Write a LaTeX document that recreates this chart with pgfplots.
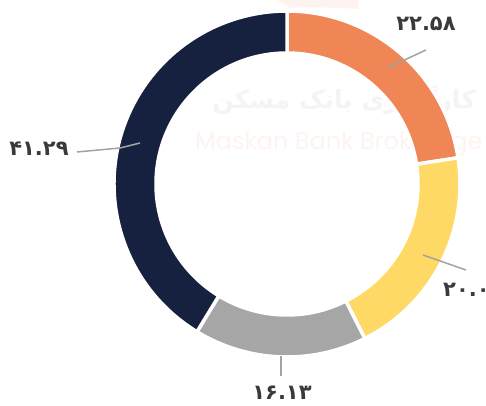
\documentclass[border=0pt]{standalone}
\usepackage{fontspec}
\usepackage{pgfplots}
\usepackage{pgfplotstable}
\pgfplotsset{compat=1.18}
\setmainfont{DejaVu Sans}
\newfontfamily\fa[Script=Arabic]{DejaVu Sans}
\newfontfamily\wmfont{Poppins}
\TeXXeTstate=1

\definecolor{cOrange}{HTML}{F08555}
\definecolor{cYellow}{HTML}{FFD966}
\definecolor{cGray}{HTML}{A6A6A6}
\definecolor{cNavy}{HTML}{15213F}
\definecolor{cLine}{HTML}{A3A3A3}
\definecolor{cText}{HTML}{3A3A3A}
\definecolor{wmPink}{HTML}{FDF4F0}
\definecolor{wmGray}{HTML}{F5F3F4}

% share of each slice, clockwise from the top
\pgfplotstableread{
value
22.58
20.00
16.13
41.29
}\donut

\pgfplotstablegetelem{0}{value}\of\donut \let\va\pgfplotsretval
\pgfplotstablegetelem{1}{value}\of\donut \let\vb\pgfplotsretval
\pgfplotstablegetelem{2}{value}\of\donut \let\vc\pgfplotsretval
\pgfplotstablegetelem{3}{value}\of\donut \let\vd\pgfplotsretval
\pgfmathsetmacro\aA{90}
\pgfmathsetmacro\aB{\aA-3.6*\va}
\pgfmathsetmacro\aC{\aB-3.6*\vb}
\pgfmathsetmacro\aD{\aC-3.6*\vc}
\pgfmathsetmacro\aE{\aD-3.6*\vd}

% ring slice: colour, start angle, end angle
\newcommand\seg[3]{%
  \fill[#1,draw=white,line width=3.5pt]
    ([shift={(#2:173pt)}]axis cs:287,221)
    arc[start angle=#2,end angle=#3,radius=173pt]
    -- ([shift={(#3:131pt)}]axis cs:287,221)
    arc[start angle=#3,end angle=#2,radius=131pt] -- cycle;}

\begin{document}
\begin{tikzpicture}
\begin{axis}[
    at={(0,0)}, anchor=south west,
    scale only axis, width=486pt, height=405pt,
    xmin=0, xmax=486, ymin=0, ymax=405,
    hide axis, clip=false,
]
% faint watermark behind the chart
\fill[wmPink] (axis cs:277,405) -- (axis cs:358,405) -- (axis cs:358,396)
  .. controls (axis cs:330,398) and (axis cs:300,398) .. (axis cs:291,397) -- cycle;
\node[anchor=east,text=wmGray,font=\fa\bfseries\fontsize{25}{28}\selectfont,inner sep=0]
  at (axis cs:476,305) {\beginR کارگزاری بانک مسکن\endR};
\node[anchor=west,text=wmPink,font=\wmfont\fontsize{24}{27}\selectfont,inner sep=0]
  at (axis cs:195,261) {Maskan Bank Brokerage};

\seg{cOrange}{\aA}{\aB}
\seg{cYellow}{\aB}{\aC}
\seg{cGray}{\aC}{\aD}
\seg{cNavy}{\aD}{\aE}

% leader lines
\draw[cLine,line width=1.5pt] (axis cs:387,337) -- (axis cs:426,355);
\draw[cLine,line width=1.5pt] (axis cs:77,253) -- (axis cs:120,257) -- (axis cs:140,262);
\draw[cLine,line width=1.5pt] (axis cs:423,150) -- (axis cs:466,135);
\draw[cLine,line width=1.5pt] (axis cs:281,49) -- (axis cs:281,29);

% value labels
\tikzset{lab/.style={text=cText,font=\fa\bfseries\fontsize{21}{24}\selectfont,inner sep=0}}
\node[lab] at (axis cs:426,381) {۲۲.۵۸};
\node[lab] at (axis cs:39,256) {۴۱.۲۹};
\node[lab,anchor=west] at (axis cs:443,115) {۲۰.۰۰};
\node[lab] at (axis cs:282,12) {۱۶.۱۳};
\end{axis}
\pgfresetboundingbox
\path[use as bounding box] (0,0) rectangle (486pt,405pt);
\end{tikzpicture}
\end{document}
